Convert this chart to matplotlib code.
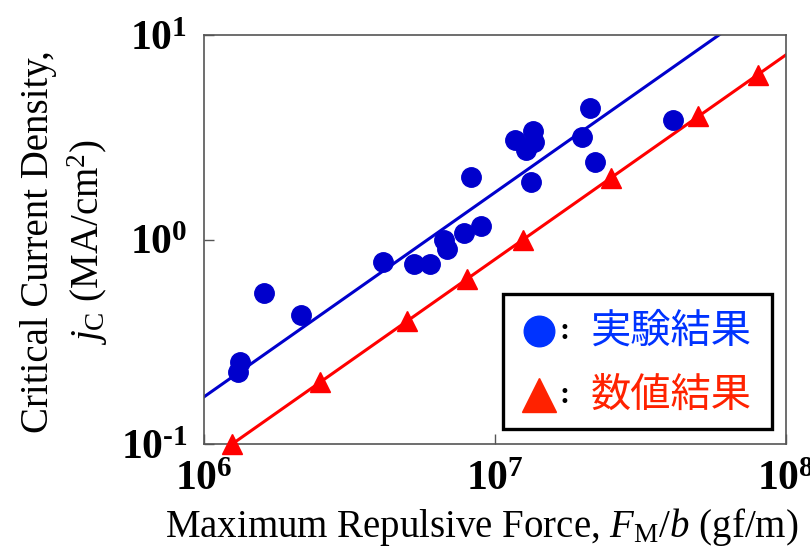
import matplotlib
matplotlib.use("Agg")
import matplotlib.pyplot as plt
from matplotlib.patches import Rectangle
from matplotlib.ticker import FixedLocator, FixedFormatter, NullLocator

plt.rcParams['font.family'] = ['Liberation Serif', 'DejaVu Serif']
plt.rcParams['mathtext.fontset'] = 'custom'
plt.rcParams['mathtext.rm'] = 'Liberation Serif'
plt.rcParams['mathtext.it'] = 'Liberation Serif:italic'
plt.rcParams['mathtext.bf'] = 'Liberation Serif:bold'

# Experimental results (blue circles)
exp_force = [1.306e6, 1.330e6, 1.612e6, 2.149e6, 4.113e6, 5.268e6, 5.979e6,
             6.677e6, 6.838e6, 7.826e6, 8.917e6, 8.238e6, 1.171e7, 1.273e7,
             1.348e7, 1.361e7, 1.327e7, 1.991e7, 2.129e7, 2.206e7, 4.097e7]
exp_jc = [0.226, 0.253, 0.546, 0.427, 0.776, 0.763, 0.759,
          0.995, 0.898, 1.076, 1.164, 2.015, 3.08, 2.75,
          3.41, 3.00, 1.90, 3.18, 4.38, 2.40, 3.84]

# Numerical results (red triangles)
num_force = [1.25e6, 2.5e6, 5e6, 8e6, 1.25e7, 2.5e7, 5e7, 8e7]
num_jc = [0.1, 0.2, 0.4, 0.64, 1.0, 2.0, 4.0, 6.4]

# Fit lines
exp_fit_force = [1e6, 1e8]
exp_fit_jc = [0.17, 17.0]
num_fit_force = [1.25e6, 1e8]
num_fit_jc = [0.1, 8.0]

x_ticks = [1e6, 1e7, 1e8]
x_ticklabels = [r'$\mathbf{10^{6}}$', r'$\mathbf{10^{7}}$', r'$\mathbf{10^{8}}$']
y_ticks = [0.1, 1, 10]
y_ticklabels = ['$\\mathbf{10^{\u2010 1}}$', r'$\mathbf{10^{0}}$', r'$\mathbf{10^{1}}$']

legend_labels = ['実験結果', '数値結果']

W, H = 810, 549
fig = plt.figure(figsize=(W / 100, H / 100), dpi=100)
ax = fig.add_axes([204 / W, 1 - 444 / H, (786 - 204) / W, (444 - 35) / H])
ax.set_xscale('log')
ax.set_yscale('log')
ax.set_xlim(1e6, 1e8)
ax.set_ylim(0.1, 10)

blue = '#0000cc'
red = '#ff0000'
ax.plot(exp_fit_force, exp_fit_jc, color=blue, lw=2.2, zorder=2)
ax.plot(num_fit_force, num_fit_jc, color=red, lw=2.2, zorder=2)
ax.plot(exp_force, exp_jc, 'o', color=blue, ms=14, mec=blue, zorder=3)
ax.plot(num_force, num_jc, '^', color=red, ms=15, mec=red, zorder=3, clip_on=False)

ax.xaxis.set_major_locator(FixedLocator(x_ticks))
ax.xaxis.set_major_formatter(FixedFormatter(x_ticklabels))
ax.yaxis.set_major_locator(FixedLocator(y_ticks))
ax.yaxis.set_major_formatter(FixedFormatter(y_ticklabels))
ax.xaxis.set_minor_locator(NullLocator())
ax.yaxis.set_minor_locator(NullLocator())
ax.tick_params(axis='both', direction='in', length=7, width=1, color='#555555',
               labelsize=30)
ax.tick_params(axis='x', pad=12)
ax.tick_params(axis='y', pad=12)
for s in ax.spines.values():
    s.set_color('#555555')
    s.set_linewidth(1.2)

# Axis labels
fig.text(482 / W, 1 - 537 / H, 'Maximum Repulsive Force, $F_\\mathrm{M}/b$ (gf/m)',
         ha='center', va='baseline', fontsize=28)
fig.text(65 / W, 1 - 242 / H,
         'Critical Current Density,\n$j_\\mathrm{C}$ (MA/cm$^2$)',
         rotation=90, ha='center', va='center', ma='center', fontsize=28,
         linespacing=1.25)

# Legend box
ax.add_patch(Rectangle((0.514, 0.037), 0.462, 0.330, transform=ax.transAxes,
                       facecolor='white', edgecolor='black', lw=2.4, zorder=5))
ax.plot([0.576], [0.276], 'o', color='#0033ff', ms=22, transform=ax.transAxes,
        zorder=6, clip_on=False)
ax.plot([0.576], [0.119], '^', color='#ff2200', ms=24, transform=ax.transAxes,
        zorder=6, clip_on=False)
for yy in (0.276, 0.119):
    ax.text(0.619, yy, ':', transform=ax.transAxes, ha='center', va='center',
            fontsize=22, fontweight='bold', zorder=6)
cjk = ['Noto Sans CJK JP', 'DejaVu Sans']
ax.text(0.665, 0.276, legend_labels[0], transform=ax.transAxes, ha='left',
        va='center', fontsize=29, color='#0033ff', family=cjk, zorder=6)
ax.text(0.665, 0.119, legend_labels[1], transform=ax.transAxes, ha='left',
        va='center', fontsize=29, color='#ff2200', family=cjk, zorder=6)

fig.savefig('out.png', dpi=100)
